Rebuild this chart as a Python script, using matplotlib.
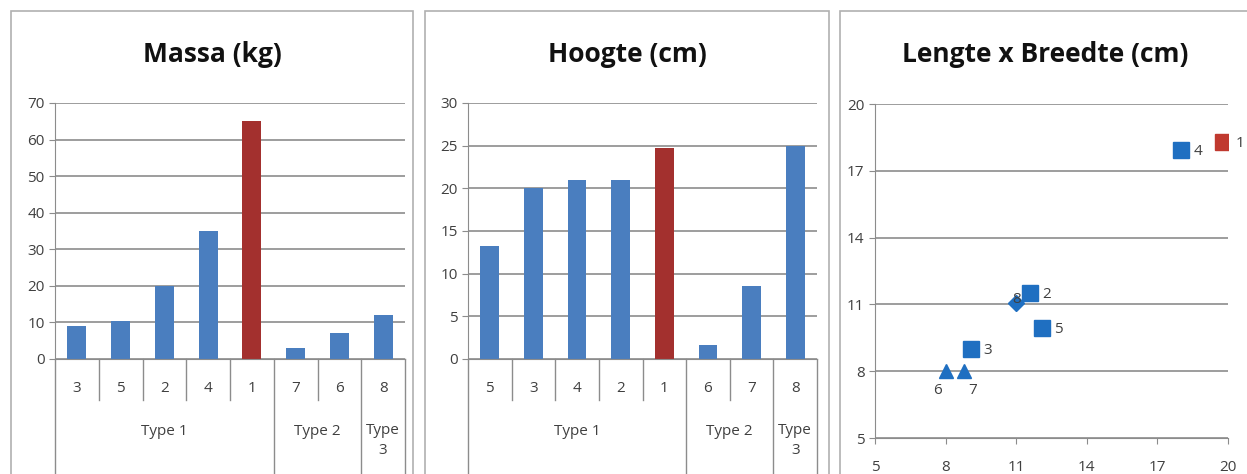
import numpy as np
import matplotlib.pyplot as plt
from matplotlib.patches import Rectangle

# data
massa_cats = ['3', '5', '2', '4', '1', '7', '6', '8']
massa_vals = [9, 10.5, 20, 35, 65, 3, 7, 12]
hoogte_cats = ['5', '3', '4', '2', '1', '6', '7', '8']
hoogte_vals = [13.3, 20, 21, 21, 24.7, 1.6, 8.5, 25]
groups = ['Type 1', 'Type 2', 'Type\n3']
group_sizes = [5, 2, 1]

scatter_ids = ['1', '4', '2', '8', '5', '3', '6', '7']
lengte = [19.8, 18.0, 11.6, 11.0, 12.1, 9.1, 8.0, 8.8]
breedte = [18.3, 17.95, 11.5, 11.05, 9.95, 9.0, 8.0, 8.0]
markers = ['s', 's', 's', 'D', 's', 's', '^', '^']

BLUE = '#4a7ebf'
RED = '#a3302e'
SBLUE = '#1f6fc1'
SRED = '#c0392f'
GRID = '#8c8c8c'
TXT = '#404040'
FS = 11

plt.rcParams['font.family'] = ['Open Sans', 'DejaVu Sans']

W, H = 1247, 474
fig = plt.figure(figsize=(W / 100, H / 100), dpi=100)


def px_axes(l, t, r, b):
    return fig.add_axes([l / W, 1 - b / H, (r - l) / W, (b - t) / H])


def frame(l, r, title):
    fig.patches.append(Rectangle((l / W, -0.1), (r - l) / W, 1 - 11 / H + 0.1,
                                 transform=fig.transFigure, fill=False,
                                 edgecolor='#b0b0b0', lw=1.2))
    fig.text((l + r) / 2 / W, 1 - 55 / H, title, ha='center', va='center',
             fontsize=19, fontweight='bold', color='#111111')


def style(ax):
    for s in ['top', 'right']:
        ax.spines[s].set_visible(False)
    for s in ['left', 'bottom']:
        ax.spines[s].set_color(GRID)
    ax.tick_params(colors=GRID, labelcolor=TXT, labelsize=FS, length=4)
    ax.set_axisbelow(True)
    ax.yaxis.grid(True, color=GRID, lw=1.2)


def bar_panel(ax, cats, vals, ymax, step):
    style(ax)
    x = np.arange(len(cats))
    colors = [RED if c == '1' else BLUE for c in cats]
    ax.bar(x, vals, width=0.43, color=colors)
    ax.set_xlim(-0.5, len(cats) - 0.5)
    ax.set_ylim(0, ymax)
    ax.set_yticks(np.arange(0, ymax + 1, step))
    ax.set_xticks([])
    trans = ax.get_xaxis_transform()
    for i, c in enumerate(cats):
        ax.text(i, -0.115, c, transform=trans, ha='center', va='center',
                fontsize=FS, color=TXT)
    # separators
    edges = np.cumsum([0] + group_sizes) - 0.5
    for i in range(len(cats) + 1):
        xe = i - 0.5
        low = -0.5 if xe in edges else -0.16
        ax.plot([xe, xe], [0, low], transform=trans, color=GRID, lw=1,
                clip_on=False)
    for g, a, b in zip(groups, edges[:-1], edges[1:]):
        ax.text((a + b) / 2, -0.285 if '\n' not in g else -0.25, g,
                transform=trans, ha='center',
                va='top' if '\n' in g else 'center', fontsize=FS, color=TXT,
                linespacing=1.5)


frame(11, 413, 'Massa (kg)')
frame(425, 829, 'Hoogte (cm)')
frame(840, 1250, 'Lengte x Breedte (cm)')

ax1 = px_axes(55, 103, 405, 359)
bar_panel(ax1, massa_cats, massa_vals, 70, 10)

ax2 = px_axes(468, 103, 817, 359)
bar_panel(ax2, hoogte_cats, hoogte_vals, 30, 5)

ax3 = px_axes(875, 104, 1228, 438)
style(ax3)
for xi, yi, m, lab in zip(lengte, breedte, markers, scatter_ids):
    c = SRED if lab == '1' else SBLUE
    ms = 11 if m == 's' else (8 if m == 'D' else 10)
    ax3.plot(xi, yi, marker=m, color=c, ms=ms, ls='none')
    if lab in ('6', '7'):
        ax3.annotate(lab, (xi, yi), xytext=(-6 if lab == '6' else 6, -14),
                     textcoords='offset points', ha='center', va='center',
                     fontsize=FS, color=TXT)
    elif lab == '8':
        ax3.annotate(lab, (xi, yi), xytext=(0, 3), textcoords='offset points',
                     ha='center', va='center', fontsize=FS, color=TXT)
    else:
        ax3.annotate(lab, (xi, yi), xytext=(12, -1), textcoords='offset points',
                     ha='center', va='center', fontsize=FS, color=TXT)
ax3.set_xlim(5, 20)
ax3.set_ylim(5, 20)
ax3.set_xticks(np.arange(5, 21, 3))
ax3.set_yticks(np.arange(5, 21, 3))
ax3.tick_params(axis='x', pad=12)

fig.savefig('out.png', dpi=100)
